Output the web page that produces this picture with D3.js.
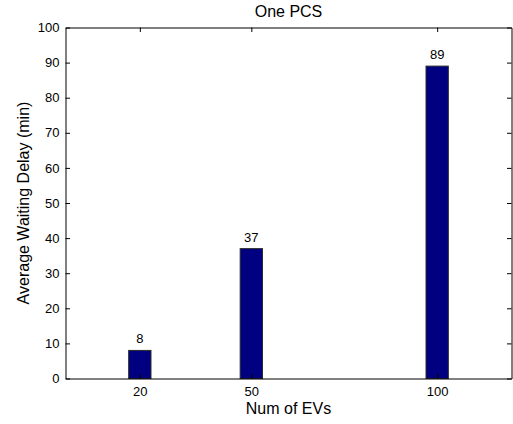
<!DOCTYPE html>
<html><head><meta charset="utf-8">
<script src="https://cdn.jsdelivr.net/npm/d3@7"></script>
<style>body{margin:0;background:#fff}svg{display:block}text{font-family:"Liberation Sans",Arial,sans-serif;fill:#000}</style>
</head><body><svg id="c" width="513" height="424"></svg>
<script>
const categories = [20, 50, 100];
const values = [8, 37, 89];
const xTicks = [20, 50, 100];
const yTicks = [0,10,20,30,40,50,60,70,80,90,100];

const svg = d3.select("#c");
const L = 65.5, R = 511.5, T = 27.5, B = 378.5;
const x = d3.scaleLinear().domain([0,120]).range([L,R]);
const y = d3.scaleLinear().domain([0,100]).range([B,T]);
const bw = 6;

svg.append("g").selectAll("rect").data(categories).join("rect")
  .attr("x", (d)=>x(d-bw/2)).attr("width", (d)=>x(bw)-x(0))
  .attr("y", (d,i)=>y(values[i])).attr("height",(d,i)=>y(0)-y(values[i]))
  .attr("fill","#000080").attr("stroke","#2a2a2a").attr("stroke-width",1);

svg.append("g").selectAll("text").data(categories).join("text")
  .attr("x", d=>x(d)).attr("y",(d,i)=>y(values[i])-7)
  .attr("text-anchor","middle").attr("font-size",13).text((d,i)=>values[i]);

const tl = 4.5;
const axB = d3.axisBottom(x).tickValues(xTicks).tickSizeInner(-tl).tickSizeOuter(0).tickPadding(8);
const axT = d3.axisTop(x).tickValues(xTicks).tickSizeInner(-tl).tickSizeOuter(0).tickFormat("");
const axL = d3.axisLeft(y).tickValues(yTicks).tickSizeInner(-tl).tickSizeOuter(0).tickPadding(6);
const axR = d3.axisRight(y).tickValues(yTicks).tickSizeInner(-tl).tickSizeOuter(0).tickFormat("");
function style(g){g.select(".domain").attr("stroke","#000");g.selectAll("line").attr("stroke","#000");g.selectAll("text").attr("font-size",13).attr("font-family",'"Liberation Sans",Arial,sans-serif');}
svg.append("g").attr("transform",`translate(0,${B})`).call(axB).call(style);
svg.append("g").attr("transform",`translate(0,${T})`).call(axT).call(style);
svg.append("g").attr("transform",`translate(${L},0)`).call(axL).call(style);
svg.append("g").attr("transform",`translate(${R},0)`).call(axR).call(style);

svg.append("text").attr("x",(L+R)/2).attr("y",17).attr("text-anchor","middle").attr("font-size",16).text("One PCS");
svg.append("text").attr("x",(L+R)/2).attr("y",414).attr("text-anchor","middle").attr("font-size",16).text("Num of EVs");
svg.append("text").attr("transform",`translate(29,${(T+B)/2}) rotate(-90)`).attr("text-anchor","middle").attr("font-size",16).text("Average Waiting Delay (min)");
</script></body></html>
